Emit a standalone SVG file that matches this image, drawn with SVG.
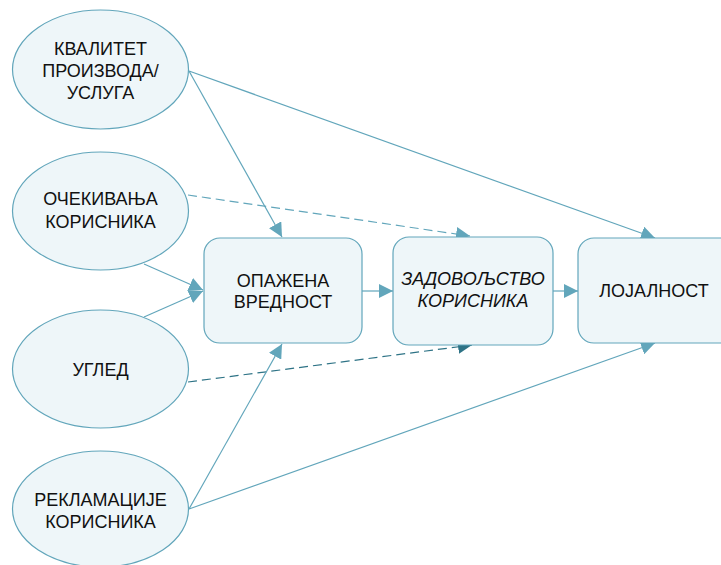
<svg xmlns="http://www.w3.org/2000/svg" width="721" height="565" viewBox="0 0 721 565">
<defs>
<marker id="ah" viewBox="0 0 10 10" refX="10" refY="5" markerWidth="14" markerHeight="14" markerUnits="userSpaceOnUse" orient="auto"><path d="M0,0 L10,5 L0,10 z" fill="#62a6bb"/></marker>
<marker id="ahd" viewBox="0 0 10 10" refX="10" refY="5" markerWidth="14" markerHeight="14" markerUnits="userSpaceOnUse" orient="auto"><path d="M0,0 L10,5 L0,10 z" fill="#2e7386"/></marker>
</defs>
<style>
.n{fill:#eef6f9;stroke:#62a6bb;stroke-width:1.2}
.t{font-family:"Liberation Sans",Arial,sans-serif;font-size:18px;fill:#111;text-anchor:middle}
.i{font-style:italic}
.c{fill:none;stroke:#62a6bb;stroke-width:1.2}
.d{stroke-dasharray:9,5}
.dk{stroke:#2e7386}
</style>
<rect width="721" height="565" fill="#fff"/>
<g id="connectors">
<line class="c" x1="189" y1="71" x2="282" y2="237" marker-end="url(#ah)"/>
<line class="c" x1="189" y1="71" x2="655" y2="238" marker-end="url(#ah)"/>
<line class="c d" x1="188" y1="195" x2="470" y2="236" marker-end="url(#ah)"/>
<line class="c" x1="144" y1="264" x2="203" y2="290" marker-end="url(#ah)"/>
<line class="c" x1="144" y1="317" x2="203" y2="291" marker-end="url(#ah)"/>
<line class="c d dk" x1="188" y1="382" x2="472" y2="345" marker-end="url(#ahd)"/>
<line class="c" x1="189" y1="509" x2="282" y2="344" marker-end="url(#ah)"/>
<line class="c" x1="189" y1="509" x2="655" y2="343" marker-end="url(#ah)"/>
<line class="c" x1="362" y1="291" x2="393" y2="291" marker-end="url(#ah)"/>
<line class="c" x1="553" y1="291" x2="578" y2="291" marker-end="url(#ah)"/>
</g>
<g id="n1"><ellipse class="n" cx="100.5" cy="69.5" rx="88" ry="59.5"/>
<text class="t" x="100.5" y="55">КВАЛИТЕТ</text><text class="t" x="100.5" y="77">ПРОИЗВОДА/</text><text class="t" x="100.5" y="99">УСЛУГА</text></g>
<g id="n2"><ellipse class="n" cx="100.5" cy="211" rx="88" ry="59"/>
<text class="t" x="100.5" y="205">ОЧЕКИВАЊА</text><text class="t" x="100.5" y="228">КОРИСНИКА</text></g>
<g id="n3"><ellipse class="n" cx="100.5" cy="369" rx="88" ry="59"/>
<text class="t" x="100.5" y="376">УГЛЕД</text></g>
<g id="n4"><ellipse class="n" cx="100.5" cy="509" rx="88" ry="58"/>
<text class="t" x="100.5" y="506">РЕКЛАМАЦИЈЕ</text><text class="t" x="100.5" y="528">КОРИСНИКА</text></g>
<g id="b1"><rect class="n" x="204" y="238" width="158" height="105" rx="16"/>
<text class="t" x="283" y="287">ОПАЖЕНА</text><text class="t" x="283" y="308">ВРЕДНОСТ</text></g>
<g id="b2"><rect class="n" x="393" y="237" width="160" height="108" rx="16"/>
<text class="t i" x="473" y="285">ЗАДОВОЉСТВО</text><text class="t i" x="473" y="307">КОРИСНИКА</text></g>
<g id="b3"><rect class="n" x="578" y="238" width="160" height="105" rx="16"/>
<text class="t" x="654" y="297">ЛОЈАЛНОСТ</text></g>
</svg>
